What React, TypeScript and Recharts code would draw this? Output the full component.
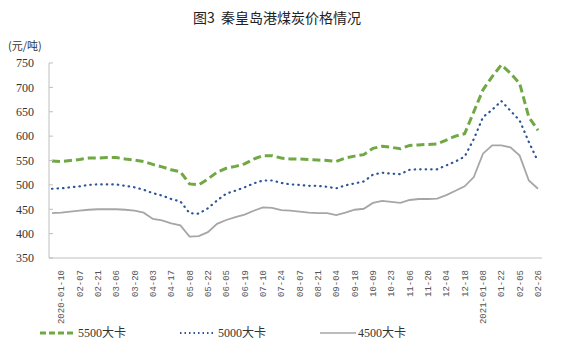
import React from 'react';
import { LineChart, Line, XAxis, YAxis } from 'recharts';

// categories: weekly points, only some dates get a label on the axis
const dates: string[] = [
  '2020-01-03', '2020-01-10', '01-17', '02-07', '02-14', '02-21', '02-28', '03-06', '03-13', '03-20',
  '03-27', '04-03', '04-10', '04-17', '04-30', '05-08', '05-15', '05-22', '05-29', '06-05',
  '06-12', '06-19', '07-03', '07-10', '07-17', '07-24', '07-31', '08-07', '08-14', '08-21',
  '08-28', '09-04', '09-11', '09-18', '09-25', '10-09', '10-16', '10-23', '10-30', '11-06',
  '11-13', '11-20', '11-27', '12-04', '12-11', '12-18', '12-25', '2021-01-08', '01-15', '01-22',
  '01-29', '02-05', '02-19', '02-26',
];

const tickLabels: string[] = [
  '2020-01-10', '02-07', '02-21', '03-06', '03-20', '04-03', '04-17', '05-08', '05-22', '06-05',
  '06-19', '07-10', '07-24', '08-07', '08-21', '09-04', '09-18', '10-09', '10-23', '11-06',
  '11-20', '12-04', '12-18', '2021-01-08', '01-22', '02-05', '02-26',
];

const price5500: number[] = [
  549, 548, 550, 552, 555, 555, 556, 556, 553, 551,
  548, 542, 537, 531, 527, 502, 500, 512, 526, 534,
  538, 543, 553, 560, 560, 555, 553, 553, 552, 551,
  550, 548, 555, 559, 562, 575, 579, 577, 574, 581,
  582, 583, 584, 592, 600, 605, 650, 695, 722, 746,
  729, 708, 639, 612,
];

const price5000: number[] = [
  492, 493, 495, 497, 500, 501, 501, 501, 498, 495,
  490, 483, 478, 471, 466, 442, 441, 452, 468, 482,
  488, 495, 503, 509, 509, 504, 501, 500, 498, 498,
  496, 493, 499, 503, 507, 521, 525, 523, 522, 531,
  532, 532, 532, 540, 548, 558, 594, 639, 654, 672,
  652, 632, 588, 548,
];

const price4500: number[] = [
  442, 443, 445, 447, 449, 450, 450, 450, 449, 447,
  443, 430, 427, 421, 417, 394, 395, 403, 420, 428,
  434, 439, 447, 454, 453, 448, 447, 445, 443, 442,
  442, 438, 443, 449, 451, 463, 467, 465, 463, 469,
  471, 471, 472, 479, 488, 497, 516, 564, 581, 581,
  577, 560, 509, 492,
];

const yTicks: number[] = [350, 400, 450, 500, 550, 600, 650, 700, 750];

const data = dates.map((d, i) => ({
  date: d,
  p5500: price5500[i],
  p5000: price5000[i],
  p4500: price4500[i],
}));

const GREEN = '#70a844';
const BLUE = '#2e5596';
const GRAY = '#a6a6a6';

const DateTick = (props: any) => {
  const { x, y, payload } = props;
  if (!tickLabels.includes(payload.value)) return null;
  return (
    <text
      x={x}
      y={y + 4}
      transform={`rotate(-90 ${x} ${y + 4})`}
      textAnchor="end"
      dy="0.35em"
      fontSize={9}
      fontFamily="'Liberation Mono', monospace"
      fill="#555"
    >
      {payload.value}
    </text>
  );
};

const legendItems = [
  { name: '5500大卡', color: GREEN, dash: '6 3', width: 3, x: 40 },
  { name: '5000大卡', color: BLUE, dash: '1.5 3', width: 2, x: 180 },
  { name: '4500大卡', color: GRAY, dash: undefined, width: 1.5, x: 320 },
];

export default function App() {
  return (
    <div style={{ position: 'relative', width: 564, height: 355, margin: -8, background: '#fff' }}>
      <div
        style={{
          position: 'absolute',
          top: 7,
          left: 0,
          width: 554,
          textAlign: 'center',
          fontSize: 14,
          fontFamily: "'Noto Sans CJK SC', sans-serif",
          color: '#222',
        }}
      >
        图3&nbsp;&nbsp;秦皇岛港煤炭价格情况
      </div>
      <div
        style={{
          position: 'absolute',
          top: 37,
          left: 8,
          fontSize: 11,
          fontFamily: "'Noto Sans CJK SC', sans-serif",
          color: '#333',
        }}
      >
        (元/吨)
      </div>
      <LineChart
        width={564}
        height={355}
        data={data}
        margin={{ top: 63, right: 22, left: 0, bottom: 37 }}
      >
        <YAxis
          domain={[350, 750]}
          ticks={yTicks}
          width={49}
          axisLine={{ stroke: '#bfbfbf' }}
          tickLine={{ stroke: '#bfbfbf' }}
          tickSize={-4}
          tickMargin={19}
          tick={{ fontSize: 12, fontFamily: "'Liberation Serif', serif", fill: '#333' }}
          interval={0}
        />
        <XAxis
          dataKey="date"
          interval={0}
          height={60}
          padding={{ left: 3, right: 4 }}
          axisLine={{ stroke: '#bfbfbf' }}
          tickLine={false}
          tick={<DateTick />}
        />
        <Line
          dataKey="p5500"
          stroke={GREEN}
          strokeWidth={3}
          strokeDasharray="8 4"
          dot={false}
          isAnimationActive={false}
        />
        <Line
          dataKey="p5000"
          stroke={BLUE}
          strokeWidth={2.2}
          strokeDasharray="0.5 5"
          strokeLinecap="round"
          dot={false}
          isAnimationActive={false}
        />
        <Line
          dataKey="p4500"
          stroke={GRAY}
          strokeWidth={1.8}
          dot={false}
          isAnimationActive={false}
        />
      </LineChart>
      <svg style={{ position: 'absolute', left: 0, top: 320 }} width={564} height={26}>
        {legendItems.map((it) => (
          <g key={it.name}>
            <line
              x1={it.x}
              x2={it.x + 36}
              y1={13}
              y2={13}
              stroke={it.color}
              strokeWidth={it.width}
              strokeDasharray={it.dash}
            />
            <text
              x={it.x + 38}
              y={13}
              dy="0.35em"
              fontSize={12}
              fontFamily="'Liberation Serif', 'Noto Sans CJK SC', serif"
              fill="#333"
            >
              {it.name}
            </text>
          </g>
        ))}
      </svg>
    </div>
  );
}
